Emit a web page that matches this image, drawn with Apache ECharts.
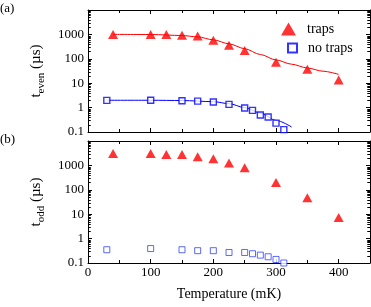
<!DOCTYPE html>
<html><head><meta charset="utf-8">
<script src="https://cdn.jsdelivr.net/npm/echarts@6/dist/echarts.min.js"></script>
<style>html,body{margin:0;padding:0;background:#fff}#c{width:371px;height:307px}</style>
</head><body><div id="c"></div>
<script>
// ---- data ----
const trapT = [40, 100, 125, 150, 175, 200, 225, 250, 300, 350, 400];
const trapEven = [1000, 1000, 1000, 920, 850, 570, 355, 220, 73, 37, 13.5];
const trapOdd = [3100, 3100, 2800, 2800, 2250, 1860, 1240, 800, 200, 47, 7.4];
const noTrapT = [30, 100, 150, 175, 200, 225, 250, 262.5, 275, 287.5, 300, 312.5];
const noTrapEven = [1.97, 2.0, 1.9, 1.85, 1.7, 1.35, 0.96, 0.77, 0.5, 0.41, 0.23, 0.125];
const noTrapOdd = [0.35, 0.39, 0.35, 0.32, 0.32, 0.27, 0.27, 0.24, 0.21, 0.18, 0.14, 0.1];
const fitTrapT = [40, 100, 150, 175, 200, 225, 250, 275, 300, 325, 350, 375, 400];
const fitTrap = [1000, 990, 900, 790, 600, 410, 260, 150, 90, 60, 42, 31, 23];
const fitNoTrapT = [30, 100, 150, 200, 225, 250, 275, 300, 325];
const fitNoTrap = [2.0, 2.0, 1.95, 1.75, 1.45, 1.0, 0.6, 0.3, 0.16];
const yTickLabels = ['0.1', '1', '10', '100', '1000'];
const logMinorTicks = [0.2,0.3,0.4,0.5,0.6,0.7,0.8,0.9, 2,3,4,5,6,7,8,9, 20,30,40,50,60,70,80,90,
  200,300,400,500,600,700,800,900, 2000,3000,4000,5000,6000,7000,8000,9000];

const FONT = "'Liberation Serif','Times New Roman',serif";
const zip = (a, b) => a.map((v, i) => [v, b[i]]);

function xAx(grid, pos, labels) {
  return {
    type: 'value', gridIndex: grid, position: pos, min: 0, max: 450, interval: 100,
    axisLine: { show: true, onZero: false, lineStyle: { color: '#000', width: 1 } },
    axisTick: { show: true, inside: true, length: 4, lineStyle: { color: '#000' } },
    minorTick: { show: true, splitNumber: 2, length: 3, lineStyle: { color: '#000' } },
    splitLine: { show: false },
    axisLabel: { show: labels, showMaxLabel: false, margin: 3, color: '#000', fontSize: 13, fontFamily: FONT },
    name: labels ? 'Temperature (mK)' : '', nameLocation: 'middle', nameGap: 24,
    nameTextStyle: { color: '#000', fontSize: 14, fontFamily: FONT }
  };
}
function yAx(grid, pos, labels, sub) {
  return {
    type: 'log', logBase: 10, gridIndex: grid, position: pos, min: 0.1, max: 10000,
    axisLine: { show: true, onZero: false, lineStyle: { color: '#000', width: 1 } },
    axisTick: { show: true, inside: true, length: 4, lineStyle: { color: '#000' } },
    splitLine: { show: false },
    axisLabel: {
      show: labels, margin: 4, color: '#000', fontSize: 13, fontFamily: FONT,
      formatter: v => { const s = yTickLabels.find(t => Math.abs(parseFloat(t) - v) < 1e-6 * Math.max(1, v)); return s || ''; }
    },
    name: labels ? '{t|t}{s|' + sub + '}{t| (µs)}' : '',
    nameLocation: 'middle', nameRotate: 90, nameGap: 38,
    nameTextStyle: {
      color: '#000', fontFamily: FONT,
      rich: {
        t: { fontSize: 15, fontFamily: FONT, color: '#000', lineHeight: 22, verticalAlign: 'middle' },
        s: { fontSize: 11, fontFamily: FONT, color: '#000', lineHeight: 12, verticalAlign: 'bottom' }
      }
    }
  };
}
function minorSeries(xi, yi) {
  return {
    type: 'custom', xAxisIndex: xi, yAxisIndex: yi, silent: true, clip: false,
    data: logMinorTicks.map(v => [0, v]), encode: { x: 0, y: 1 },
    renderItem: (params, api) => {
      const cs = params.coordSys;
      const y = Math.round(api.coord([0, api.value(1)])[1]) + 0.5;
      return { type: 'group', children: [
        { type: 'line', shape: { x1: cs.x, y1: y, x2: cs.x + 2.5, y2: y }, style: { stroke: '#000', lineWidth: 1 } },
        { type: 'line', shape: { x1: cs.x + cs.width - 2.5, y1: y, x2: cs.x + cs.width, y2: y }, style: { stroke: '#000', lineWidth: 1 } }
      ] };
    }
  };
}
const RED = '#ff0000', BLUE = '#0000ff';
const triStyle = { color: RED };
const option = {
  animation: false,
  backgroundColor: '#fff',
  grid: [
    { left: 88, right: 1, top: 10, height: 122, containLabel: false },
    { left: 88, right: 1, top: 141, height: 122, containLabel: false }
  ],
  xAxis: [xAx(0, 'bottom', false), xAx(0, 'top', false), xAx(1, 'bottom', true), xAx(1, 'top', false)],
  yAxis: [yAx(0, 'left', true, 'even'), yAx(0, 'right', false), yAx(1, 'left', true, 'odd'), yAx(1, 'right', false)],
  legend: [
    { data: ['traps'], orient: 'vertical', left: 276, top: 17, itemWidth: 15, itemHeight: 13,
      textStyle: { color: '#000', fontSize: 14, fontFamily: FONT, padding: [0, 0, 0, 6] } },
    { data: ['no traps'], orient: 'vertical', left: 282, top: 36, itemWidth: 9, itemHeight: 9,
      textStyle: { color: '#000', fontSize: 14, fontFamily: FONT, padding: [0, 0, 0, 6] } }
  ],
  graphic: [
    { type: 'text', left: 0, top: 2, style: { text: '(a)', fontSize: 13, fontFamily: FONT, fill: '#000' } },
    { type: 'text', left: 0, top: 133, style: { text: '(b)', fontSize: 13, fontFamily: FONT, fill: '#000' } }
  ],
  series: [
    minorSeries(0, 0), minorSeries(0, 1), minorSeries(2, 2), minorSeries(2, 3),
    { name: 'fitTrap', type: 'line', xAxisIndex: 0, yAxisIndex: 0, data: zip(fitTrapT, fitTrap), smooth: 0.3,
      smoothMonotone: 'x', showSymbol: false, lineStyle: { color: RED, width: 1 }, z: 2 },
    { name: 'fitNoTrap', type: 'line', xAxisIndex: 0, yAxisIndex: 0, data: zip(fitNoTrapT, fitNoTrap), smooth: 0.3,
      smoothMonotone: 'x', showSymbol: false, lineStyle: { color: BLUE, width: 1 }, z: 2 },
    { name: 'traps', type: 'scatter', xAxisIndex: 0, yAxisIndex: 0, data: zip(trapT, trapEven),
      symbol: 'triangle', symbolSize: [10, 9], itemStyle: triStyle, z: 3 },
    { name: 'no traps', type: 'scatter', xAxisIndex: 0, yAxisIndex: 0, data: zip(noTrapT, noTrapEven),
      symbol: 'rect', symbolSize: 6, itemStyle: { color: '#fff', borderColor: BLUE, borderWidth: 1.4 }, z: 3 },
    { name: 'traps', type: 'scatter', xAxisIndex: 2, yAxisIndex: 2, data: zip(trapT, trapOdd),
      symbol: 'triangle', symbolSize: [10, 9], itemStyle: triStyle, z: 3 },
    { name: 'no traps', type: 'scatter', xAxisIndex: 2, yAxisIndex: 2, data: zip(noTrapT, noTrapOdd),
      symbol: 'rect', symbolSize: 6, itemStyle: { color: '#fff', borderColor: '#3344ff', borderWidth: 1 }, z: 3 }
  ]
};
const chart = echarts.init(document.getElementById('c'), null, { renderer: 'canvas' });
chart.setOption(option);
</script></body></html>
